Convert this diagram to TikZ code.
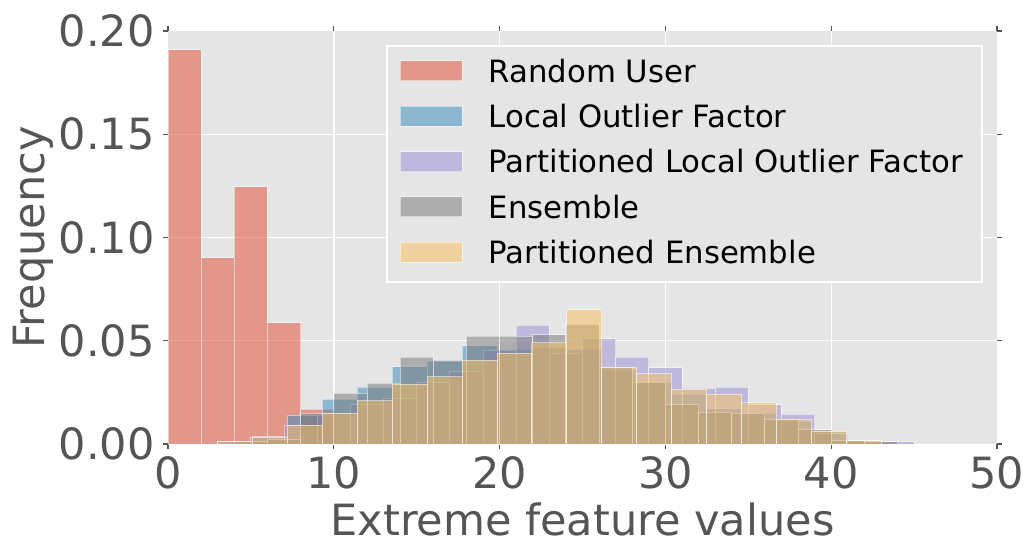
\documentclass[tikz,border=0pt]{standalone}
\usepackage{fontspec}
\setmainfont{DejaVu Sans}
\usepackage{tikz}
\usetikzlibrary{positioning}
\definecolor{fondo}{HTML}{E5E5E5}
\definecolor{texto}{HTML}{555555}
\definecolor{rojo}{HTML}{E24A33}
\definecolor{azul}{HTML}{348ABD}
\definecolor{morado}{HTML}{988ED5}
\definecolor{gris}{HTML}{777777}
\definecolor{amarillo}{HTML}{FBC15E}

\begin{document}
\begin{tikzpicture}[x=0.3316cm, y=41.3cm,
    barra/.style={draw=white, line width=0.5pt, opacity=0.5},
    marca/.style={texto, line width=0.6pt},
    etiq/.style={texto, inner sep=0pt, font=\fontsize{24.5}{28}\selectfont},
    parche/.style={barra, minimum width=1.24cm, minimum height=0.4cm, inner sep=0pt},
    leyenda/.style={inner sep=0pt, font=\fontsize{17.5}{20}\selectfont}]
  \useasboundingbox (-10.133,-0.04649) rectangle (51.749,0.21501);

  % Fondo y rejilla
  \fill[fondo] (0,0) rectangle (50,0.2);
  \foreach \x in {10,20,30,40}
    \draw[white, line width=0.8pt] (\x,0) -- (\x,0.2);
  \foreach \y in {0.05,0.10,0.15}
    \draw[white, line width=0.8pt] (0,\y) -- (50,\y);

  % Marcas en los ejes
  \foreach \x in {0,10,...,50} {
    \draw[marca] (\x,0) -- ++(0,-0.1cm);
    \draw[marca] (\x,0.2) -- ++(0,0.1cm);
    \node[etiq, anchor=north, below=0.24cm] (xt\x) at (\x,0) {\x};
  }
  \foreach \y [count=\i] in {0.00,0.05,0.10,0.15,0.20} {
    \draw[marca] (0,\y) -- ++(-0.1cm,0);
    \draw[marca] (50,\y) -- ++(0.1cm,0);
    \node[etiq, anchor=east, left=0.26cm] (yt\i) at (0,\y) {\y};
  }

  % Random User
  \foreach \h [count=\i from 0] in {0.191,0.0902,0.1245,0.0587,0.0169}
    \draw[barra, fill=rojo] ({2*\i},0) rectangle ({2*\i+2},\h);

  % Local Outlier Factor
  \foreach \h [count=\i from 0] in {0.001,0.0035,0.014,0.0218,0.0275,0.0375,0.040,0.0475,0.046,0.047,0.046,0.036,0.030,0.024,0.017,0.015,0.011,0.006,0.0015}
    \draw[barra, fill=azul] ({2.96+2.11*\i},0) rectangle ({2.96+2.11*(\i+1)},\h);

  % Partitioned Local Outlier Factor
  \foreach \h [count=\i from 0] in {0.001,0.003,0.009,0.015,0.019,0.022,0.030,0.035,0.0455,0.0575,0.044,0.051,0.042,0.037,0.027,0.0276,0.019,0.0145,0.0053,0.0012,0.001}
    \draw[barra, fill=morado] ({3+2*\i},0) rectangle ({5+2*\i},\h);

  % Ensemble
  \foreach \h [count=\i from 0] in {0.001,0.002,0.015,0.0247,0.0295,0.042,0.0405,0.0523,0.0523,0.053,0.058,0.037,0.030,0.019,0.0155,0.015,0.012,0.007,0.0015,0.001}
    \draw[barra, fill=gris] ({4+2*\i},0) rectangle ({6+2*\i},\h);

  % Partitioned Ensemble
  \foreach \h [count=\i from 0] in {0.001,0.003,0.009,0.015,0.021,0.029,0.0325,0.0406,0.044,0.049,0.065,0.037,0.034,0.0266,0.024,0.020,0.012,0.0063,0.0015}
    \draw[barra, fill=amarillo] ({2.96+2.11*\i},0) rectangle ({2.96+2.11*(\i+1)},\h);

  % Leyenda
  \draw[white, fill=fondo, line width=0.8pt] (13.21,0.19274) rectangle (49.10,0.07845);
  \foreach \nombre/\col [count=\i from 0] in {Random User/rojo, Local Outlier Factor/azul,
      Partitioned Local Outlier Factor/morado, Ensemble/gris, Partitioned Ensemble/amarillo} {
    \node[parche, fill=\col] (p\i) at (15.86,{0.18077-0.021985*\i}) {};
    \node[leyenda, right=0.52cm of p\i] (ley\i) {\nombre};
  }

  % Titulos de los ejes
  \node[etiq, anchor=base, yshift=-1.84cm] (ejex) at (25,0) {Extreme feature values};
  \node[etiq, anchor=base, rotate=90] (ejey) at (-7.479,0.1) {Frequency};

\end{tikzpicture}
\end{document}
